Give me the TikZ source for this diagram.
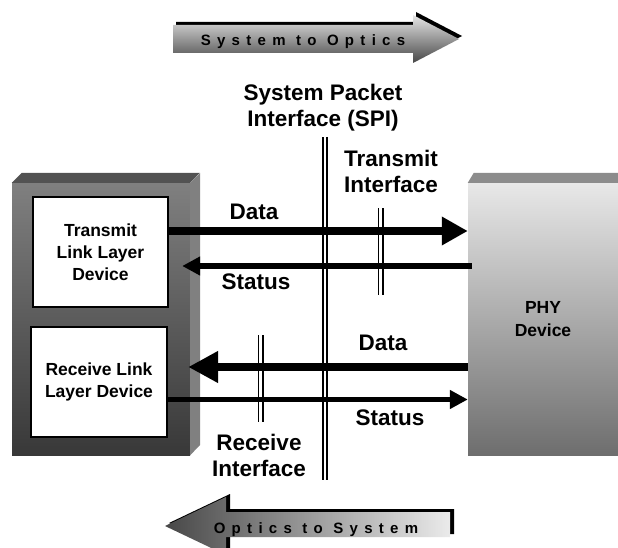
\documentclass[tikz,border=0pt]{standalone}
\usepackage{fontspec}
\setmainfont{Liberation Sans}
\newfontfamily\trackfont[LetterSpace=42]{Liberation Sans}
\usetikzlibrary{arrows.meta}

\begin{document}
\begin{tikzpicture}[x=1pt, y=-1pt,
    lbl/.style={font=\fontsize{22.5}{26}\selectfont\bfseries, align=center, inner sep=0pt},
    dev/.style={draw, line width=2pt, fill=white, minimum width=135pt, minimum height=110pt, inner sep=0pt, align=center, font=\fontsize{17.5}{22}\selectfont\bfseries},
    bus/.style={double, line width=1.8pt, double distance=2.8pt},
    data/.style={line width=8pt, -{Triangle[length=26pt, width=27pt]}},
    stat/.style={line width=5.5pt, -{Triangle[length=18pt, width=18pt]}},
    flow/.style={font=\trackfont\fontsize{15}{16}\selectfont\bfseries, inner sep=0pt}]

    \path[use as bounding box, fill=white] (0,0) rectangle (618,548);
    \clip (0,0) rectangle (618,548);

    % Direction arrows
    \fill[black, shift={(3,-3)}] (173,25) -- (413,25) -- (413,15) -- (459,39) -- (413,63) -- (413,53) -- (173,53) -- cycle;
    \shade[top color=black!10, middle color=black!32, bottom color=black!72] (173,25) -- (413,25) -- (413,15) -- (459,39) -- (413,63) -- (413,53) -- (173,53) -- cycle;
    \node[flow] (STO) at (303,42) {System to Optics};

    \fill[black, shift={(4,-3)}] (450,512) -- (226,512) -- (226,497) -- (165,526) -- (226,555) -- (226,537) -- (450,537) -- cycle;
    \shade[left color=black!72, right color=black!8] (450,512) -- (226,512) -- (226,497) -- (165,526) -- (226,555) -- (226,537) -- (450,537) -- cycle;
    \node[flow] (OTS) at (316,530) {Optics to System};

    % System side block
    \node[minimum width=178pt, minimum height=272pt, inner sep=0pt, top color=black!50, bottom color=black!78] (SYS) at (101,319) {};
    \fill[black!68] (SYS.north west) -- ++(10,-10) -- ++(178,0) -- (SYS.north east) -- cycle;
    \fill[black!50] (SYS.north east) -- ++(10,-10) -- ++(0,272) -- (SYS.south east) -- cycle;
    \node[dev] (TX) at (100.5,252) {Transmit\\Link Layer\\Device};
    \node[dev, minimum width=136pt] (RX) at (99,382) {Receive Link\\Layer Device};

    % PHY block
    \node[minimum width=150pt, minimum height=272pt, inner sep=0pt, top color=black!9, bottom color=black!57, align=center, font=\fontsize{17.5}{23}\selectfont\bfseries] (PHY) at (543,319) {PHY\\Device};
    \fill[black!45] (PHY.north west) -- ++(6,-10) -- (618,173) -- (PHY.north east) -- cycle;

    % Interfaces
    \coordinate (SPItop) at (325,137);
    \coordinate (SPIbot) at (325,480);
    \coordinate (TXItop) at (380.8,208);
    \coordinate (TXIbot) at (380.8,295);
    \coordinate (RXItop) at (260.8,335);
    \coordinate (RXIbot) at (260.8,422);
    \draw[bus] (SPItop) -- (SPIbot);
    \draw[bus] (TXItop) -- (TXIbot);
    \draw[bus] (RXItop) -- (RXIbot);

    \node[lbl] (SPI) at (323,108) {System Packet\\Interface (SPI)};
    \node[lbl] (TXI) at (391,171) {Transmit\\Interface};
    \node[lbl] (RXI) at (259,455) {Receive\\Interface};

    % Signals
    \node[lbl] (D1) at (254,212) {Data};
    \node[lbl] (S1) at (256,282) {Status};
    \node[lbl] (D2) at (383,343) {Data};
    \node[lbl] (S2) at (390,418) {Status};

    \draw[data] (TX.east |- 0,231) -- (PHY.west |- 0,231);
    \draw[stat, shorten <=-4pt, shorten >=-8pt] (PHY.west |- 0,266) -- (SYS.east |- 0,266);
    \draw[data, -{Triangle[length=30pt, width=30pt]}, shorten >=-2pt] (PHY.west |- 0,367) -- (SYS.east |- 0,367);
    \draw[stat] (RX.east |- 0,399.5) -- (PHY.west |- 0,399.5);
\end{tikzpicture}
\end{document}
